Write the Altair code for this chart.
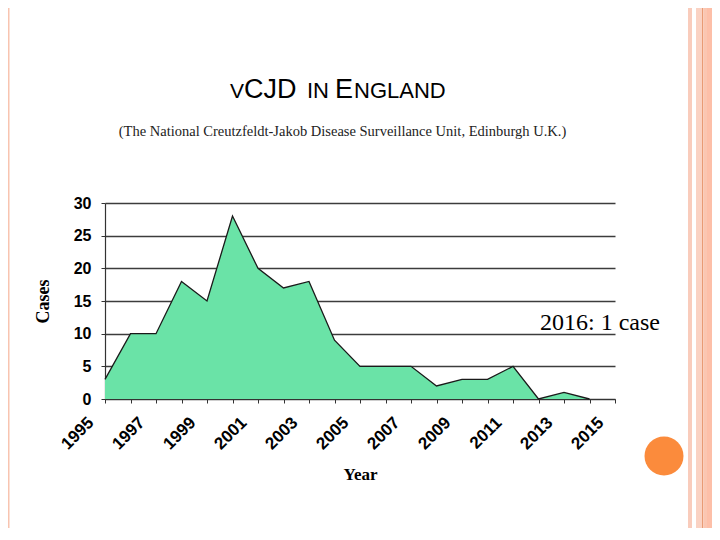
import altair as alt
import pandas as pd

# vCJD cases per year, England
years = [1995, 1996, 1997, 1998, 1999, 2000, 2001, 2002, 2003, 2004,
         2005, 2006, 2007, 2008, 2009, 2010, 2011, 2012, 2013, 2014]
cases = [3, 10, 10, 18, 15, 28, 20, 17, 18, 9,
         5, 5, 5, 2, 3, 3, 5, 0, 1, 0]

tick_years = [1995, 1996, 1997, 1998, 1999, 2000, 2001, 2002, 2003, 2004, 2005,
              2006, 2007, 2008, 2009, 2010, 2011, 2012, 2013, 2014, 2015]
case_ticks = [0, 5, 10, 15, 20, 25, 30]

title_parts = ["V", "CJD", "IN", "E", "NGLAND"]
source_text = "(The National Creutzfeldt-Jakob Disease Surveillance Unit, Edinburgh U.K.)"
note_text = "2016: 1 case"

df = pd.DataFrame({"year": years, "cases": cases})
one = pd.DataFrame({"k": [0]})

SANS = "Liberation Sans"
SERIF = "Liberation Serif"


def rect(x1, x2, y1, y2, color):
    return alt.Chart(one).mark_rect(color=color).encode(
        x=alt.value(x1), x2=alt.value(x2), y=alt.value(y1), y2=alt.value(y2)
    )


def label(text, x, y, size, font=SANS, align="left", weight="normal", color="black"):
    return alt.Chart(one).mark_text(
        text=text, align=align, baseline="alphabetic", font=font,
        fontSize=size, fontWeight=weight, color=color
    ).encode(x=alt.value(x), y=alt.value(y))


area = alt.Chart(df).mark_area(
    color="#6ae3a7",
    opacity=1,
    line={"color": "#1a1a1a", "strokeWidth": 1.3}
).encode(
    x=alt.X("year:Q",
            scale=alt.Scale(domain=[1995, 2015], nice=False, zero=False),
            axis=alt.Axis(values=tick_years, format="d",
                          labelExpr="datum.value % 2 == 1 ? datum.label : ''",
                          labelAngle=-45, labelOffset=-20, labelPadding=11,
                          labelFlush=False, labelOverlap=False, labelBound=False,
                          labelFont=SANS, labelFontWeight="bold", labelFontSize=17,
                          labelColor="black", grid=False,
                          domainColor="#333333", domainWidth=1.2,
                          tickColor="#333333", tickSize=4,
                          title="Year", titleFont=SERIF, titleFontWeight="bold",
                          titleFontSize=17, titleColor="black",
                          titleX=255, titleY=80, titleBaseline="alphabetic")),
    y=alt.Y("cases:Q",
            scale=alt.Scale(domain=[0, 30], nice=False),
            axis=alt.Axis(values=case_ticks, labelFont=SANS, labelFontWeight="bold",
                          labelFontSize=16, labelColor="black", labelPadding=10,
                          domainColor="#333333", domainWidth=1.2,
                          tickColor="#333333", tickSize=4,
                          gridColor="#3c3c3c", gridWidth=1.3, gridOpacity=1,
                          title="Cases", titleFont=SERIF, titleFontWeight="bold",
                          titleFontSize=18, titleColor="black",
                          titleX=-57, titleY=98, titleBaseline="alphabetic"))
)

# slide decoration (positions relative to the plot origin)
left_bar = rect(-97, -95.5, -195, 325, "#f8c4b0")
band = [
    rect(583, 587, -195, 325, "#f9ccbc"),
    rect(591, 597, -195, 325, "#fad2c3"),
    rect(597, 598.3, -195, 325, "#e99b74"),
    rect(598.3, 602, -195, 325, "#fbc6b1"),
    rect(602, 615, -195, 325, "#fdbfa8"),
]
dot = alt.Chart(one).mark_circle(size=1520, color="#fb8b3c", opacity=1).encode(
    x=alt.value(559), y=alt.value(253)
)

title = [
    label(title_parts[0], 125, -105, 21),
    label(title_parts[1], 139, -105, 27),
    label(title_parts[2], 202, -105, 22),
    label(title_parts[3], 230, -105, 27),
    label(title_parts[4], 249, -105, 22),
]
source = label(source_text, 237.5, -67, 14.5, font=SERIF, align="center", color="#222222")
note = label(note_text, 435, 127, 24, font=SERIF)

chart = alt.layer(
    left_bar, *band, area, *title, source, note, dot
).properties(
    width=510,
    height=196,
    padding={"left": 97, "top": 195, "right": 97, "bottom": 129},
    autosize=alt.AutoSizeParams(type="none"),
    background="white"
).configure_view(stroke="transparent")

chart.save("out.html", embed_options={"renderer": "svg", "actions": False})
